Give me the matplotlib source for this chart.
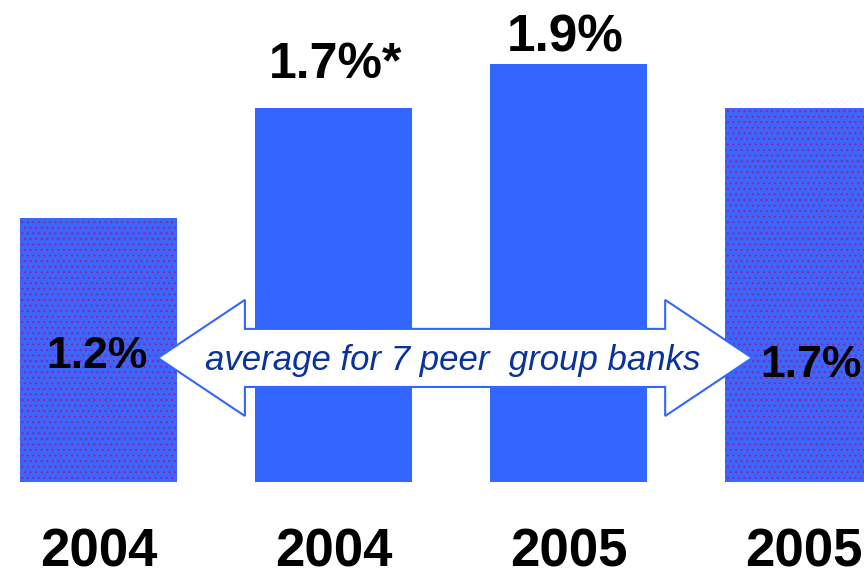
import matplotlib
matplotlib.use('Agg')
import matplotlib.pyplot as plt
from matplotlib.patches import Polygon

# Data
years = ['2004', '2004', '2005', '2005']
values = [1.2, 1.7, 1.9, 1.7]
value_labels = ['1.2%', '1.7%*', '1.9%', '1.7%']
peer_group = [True, False, False, True]   # dotted bars = peer group average
arrow_text = 'average for 7 peer  group banks'

# Layout (data units)
label_y = [0.57, 1.895, 2.02, 0.53]
label_size = [32, 36, 37, 32]
label_dx = [-0.005, 0.01, -0.015, 0.03]

plt.rcParams['font.family'] = ['Liberation Sans', 'DejaVu Sans']
plt.rcParams['hatch.linewidth'] = 0.8

solid_blue = '#3366ff'
dot_blue = '#3a66fa'
dot_color = '#9a1fa6'

fig = plt.figure(figsize=(8.64, 5.75), dpi=100)
ax = fig.add_axes([0, 0, 1, 1])
ax.axis('off')
ax.set_xlim(-0.419, 3.257)
ax.set_ylim(-0.4227, 2.191)

x = list(range(len(values)))
for i in x:
    if peer_group[i]:
        ax.bar(i, values[i], width=0.67, color=dot_blue, edgecolor=dot_color,
               linewidth=0, hatch='...', zorder=1)
    else:
        ax.bar(i, values[i], width=0.67, color=solid_blue, linewidth=0, zorder=1)

    ax.text(i + label_dx[i], label_y[i], value_labels[i], ha='center', va='center',
            fontsize=label_size[i], fontweight='bold', color='black', zorder=4)
    ax.text(i, -0.32, years[i], ha='center', va='center',
            fontsize=38, fontweight='bold', color='black')

# Double-headed block arrow across the middle
xl, xr = 0.253, 2.781
yc = 0.564
hl = 0.37
hh = 0.264
sh = 0.132
verts = [(xl, yc), (xl + hl, yc + hh), (xl + hl, yc + sh), (xr - hl, yc + sh),
         (xr - hl, yc + hh), (xr, yc), (xr - hl, yc - hh), (xr - hl, yc - sh),
         (xl + hl, yc - sh), (xl + hl, yc - hh)]
ax.add_patch(Polygon(verts, closed=True, facecolor='white', edgecolor=solid_blue,
                     linewidth=1.5, zorder=3))
ax.text((xl + xr) / 2 - 0.01, yc - 0.01, arrow_text, ha='center', va='center',
        fontsize=25, fontstyle='italic', color='#0a3399', zorder=4)

plt.savefig('out.png', dpi=100)
